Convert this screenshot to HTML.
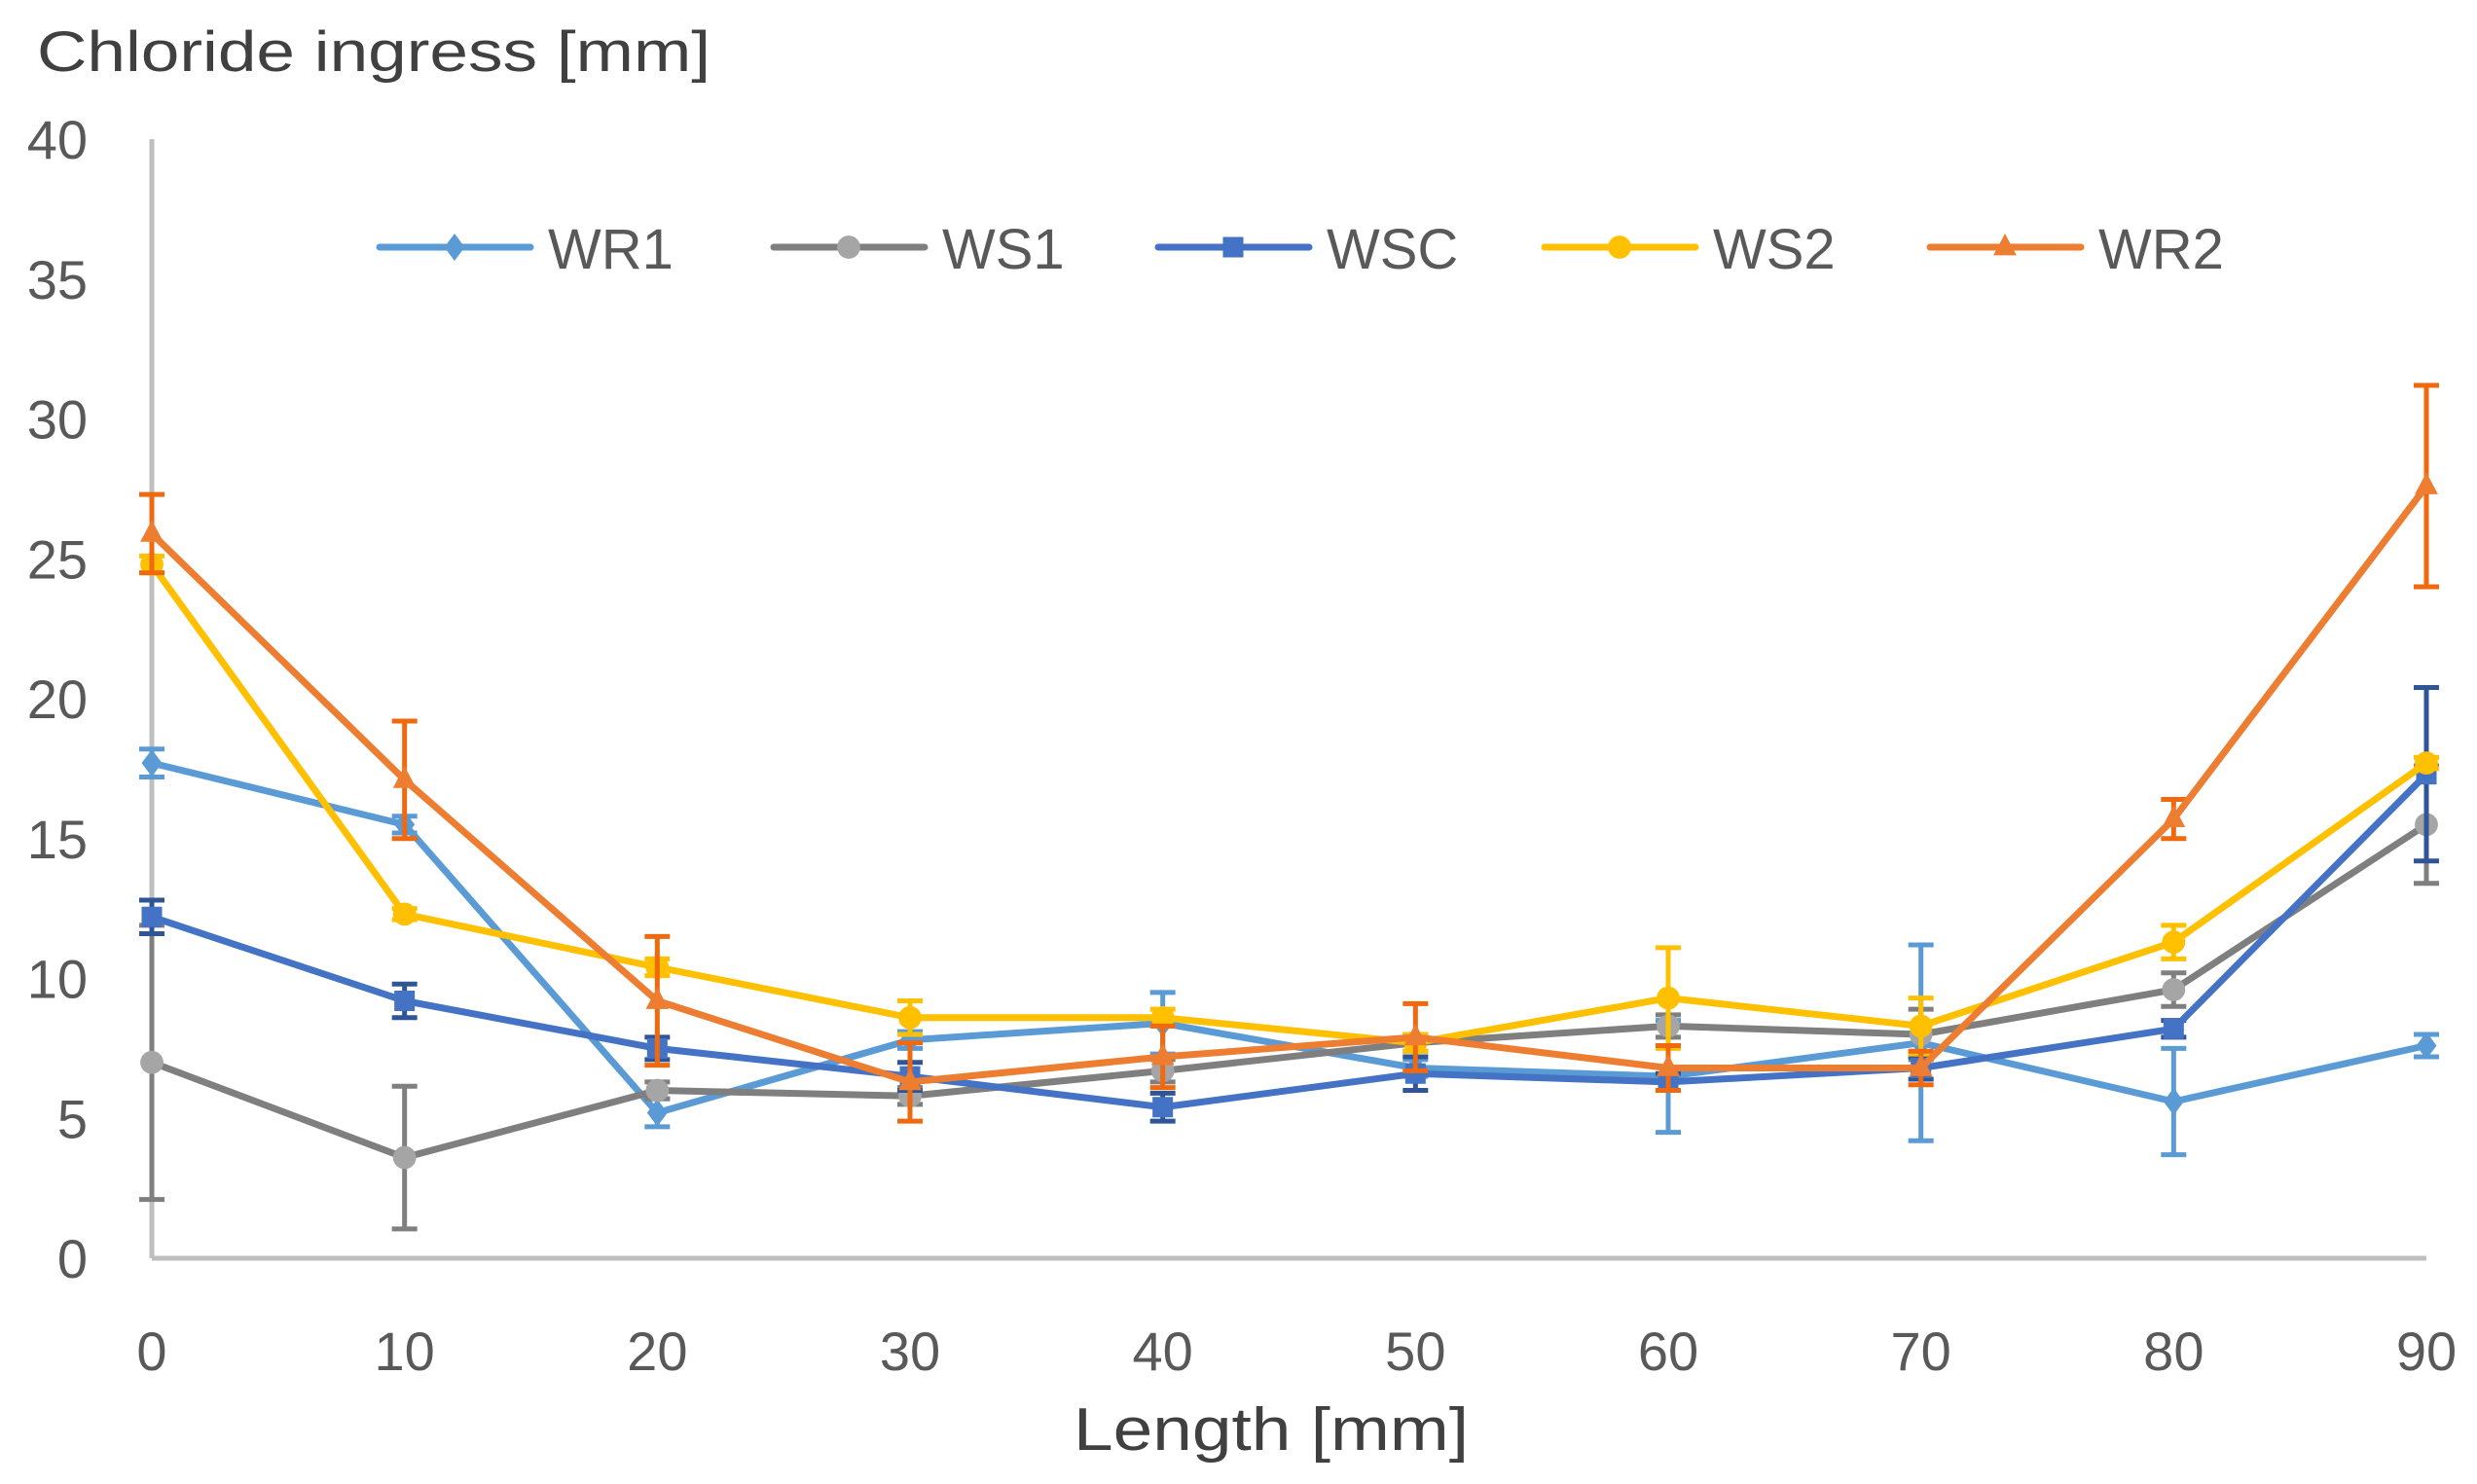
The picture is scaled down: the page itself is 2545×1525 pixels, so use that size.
<!DOCTYPE html>
<html><head><meta charset="utf-8"><style>
html,body{margin:0;padding:0;background:#fff;}
svg{display:block;font-family:"Liberation Sans",sans-serif;}
</style></head><body>
<svg id="chart" width="2545" height="1525" viewBox="0 0 2545 1525" xmlns="http://www.w3.org/2000/svg">
<rect width="2545" height="1525" fill="#fff"/>
<text x="38" y="73" font-size="58" fill="#404040" textLength="692" lengthAdjust="spacingAndGlyphs">Chloride ingress [mm]</text>
<text x="1306" y="1490" font-size="62" fill="#404040" text-anchor="middle" textLength="406" lengthAdjust="spacingAndGlyphs">Length [mm]</text>
<g id="axes"></g><g id="series"></g><g id="legend"></g>
</svg>
<script>
const xCategories=[0,10,20,30,40,50,60,70,80,90];
const yTicks=[0,5,10,15,20,25,30,35,40];
const seriesNames=["WR1","WS1","WSC","WS2","WR2"];
const wr1Values=[17.7,15.5,5.2,7.8,8.4,6.8,6.5,7.7,5.6,7.6];
const wr1Errors=[0.5,0.3,0.5,0.3,1.1,0.3,2.0,3.5,1.9,0.4];
const ws1Values=[7.0,3.6,6.0,5.8,6.7,7.7,8.3,8.0,9.6,15.5];
const ws1Errors=[4.9,2.55,0.3,0.3,0.4,0.3,0.4,0.9,0.6,2.1];
const wscValues=[12.2,9.2,7.5,6.5,5.4,6.6,6.3,6.8,8.2,17.3];
const wscErrors=[0.6,0.6,0.4,0.5,0.5,0.6,0.3,0.4,0.3,3.1];
const ws2Values=[24.8,12.3,10.4,8.6,8.6,7.7,9.3,8.3,11.3,17.7];
const ws2Errors=[0.3,0.2,0.3,0.6,0.3,0.3,1.8,1.0,0.6,0.2];
const wr2Values=[25.9,17.1,9.2,6.3,7.2,7.9,6.8,6.8,15.7,27.6];
const wr2Errors=[1.4,2.1,2.3,1.4,1.1,1.2,0.8,0.6,0.7,3.6];

const NS="http://www.w3.org/2000/svg";
const x0=156,x1=2493,y0=1293,y1=143;
function xs(v){return x0+(v-0)/(90-0)*(x1-x0);}
function ys(v){return y0-(v-0)/(40-0)*(y0-y1);}
function mk(tag,attrs,parent){const e=document.createElementNS(NS,tag);for(const k in attrs)e.setAttribute(k,attrs[k]);parent.appendChild(e);return e;}
const axes=document.getElementById('axes');
const ya=mk('line',{x1:x0,y1:y1,x2:x0,y2:y0,stroke:'#BFBFBF','stroke-width':5},axes);


const xa=mk('line',{x1:x0,y1:y0,x2:x1,y2:y0,stroke:'#BFBFBF','stroke-width':5},axes);


yTicks.forEach(t=>{
  const tx=mk('text',{x:90,y:ys(t)+20,'font-size':56,fill:'#595959','text-anchor':'end'},axes);
  tx.textContent=t;
  
  
});
xCategories.forEach(c=>{
  const tx=mk('text',{x:xs(c),y:1408,'font-size':56,fill:'#595959','text-anchor':'middle'},axes);
  tx.textContent=c;
  
  
});
const cfg=[
 {vals:wr1Values,errs:wr1Errors,line:'#5B9BD5',mark:'#5B9BD5',err:'#5B9BD5',shape:'diamond'},
 {vals:ws1Values,errs:ws1Errors,line:'#7F7F7F',mark:'#A5A5A5',err:'#7F7F7F',shape:'circle'},
 {vals:wscValues,errs:wscErrors,line:'#4472C4',mark:'#4472C4',err:'#2F5597',shape:'square'},
 {vals:ws2Values,errs:ws2Errors,line:'#FFC000',mark:'#FFC000',err:'#FFC000',shape:'circle'},
 {vals:wr2Values,errs:wr2Errors,line:'#ED7D31',mark:'#ED7D31',err:'#F0690F',shape:'triangle'}
];
function marker(shape,cx,cy,color,g,s){
  let e;
  if(shape==='diamond')e=mk('polygon',{points:`${cx},${cy-s} ${cx+s*0.75},${cy} ${cx},${cy+s} ${cx-s*0.75},${cy}`,fill:color},g);
  else if(shape==='circle')e=mk('circle',{cx:cx,cy:cy,r:s*0.85,fill:color},g);
  else if(shape==='square')e=mk('rect',{x:cx-s*0.75,y:cy-s*0.75,width:s*1.5,height:s*1.5,fill:color},g);
  else e=mk('polygon',{points:`${cx},${cy-s} ${cx+s*0.85},${cy+s*0.6} ${cx-s*0.85},${cy+s*0.6}`,fill:color},g);
  return e;
}
const sg=document.getElementById('series');
cfg.forEach((c,i)=>{
  const g=mk('g',{},sg);
  
  
  c.vals.forEach((v,j)=>{
    const x=xs(xCategories[j]);const top=ys(Math.min(40,v+c.errs[j]));const bot=ys(Math.max(0,v-c.errs[j]));
    const eb=mk('path',{d:`M${x},${top}V${bot}M${x-13},${top}H${x+13}M${x-13},${bot}H${x+13}`,stroke:c.err,'stroke-width':5,fill:'none'},g);
    
    
  });
  const pts=c.vals.map((v,j)=>xs(xCategories[j])+','+ys(v)).join(' ');
  const pl=mk('polyline',{points:pts,stroke:c.line,'stroke-width':7,fill:'none','stroke-linejoin':'round','stroke-linecap':'round'},g);
  
  
  c.vals.forEach((v,j)=>{
    const m=marker(c.shape,xs(xCategories[j]),ys(v),c.mark,g,14);
    
    
  });
});
const lg=document.getElementById('legend');
const legX=[390,795,1190,1587,1983];
cfg.forEach((c,i)=>{
  const g=mk('g',{},lg);
  
  
  const lx=legX[i],ly=254;
  mk('line',{x1:lx,y1:ly,x2:lx+155,y2:ly,stroke:c.line,'stroke-width':7,'stroke-linecap':'round'},g);
  marker(c.shape,lx+77,ly,c.mark,g,14);
  const t=mk('text',{x:lx+173,y:ly+22,'font-size':58,fill:'#595959'},g);
  t.textContent=seriesNames[i];
});
</script>
</body></html>
